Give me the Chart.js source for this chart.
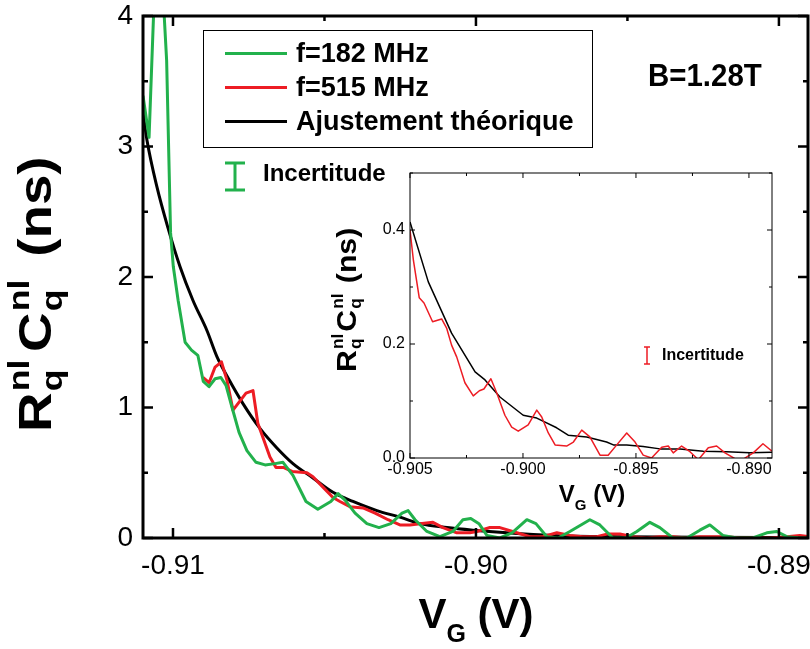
<!DOCTYPE html>
<html>
<head>
<meta charset="utf-8">
<script src="https://cdn.jsdelivr.net/npm/chart.js@4.4.1/dist/chart.umd.min.js"></script>
<style>
  html, body { margin: 0; padding: 0; background: #fff; overflow: hidden; }
  #wrap { position: relative; width: 810px; height: 649px; overflow: hidden;
          font-family: "Liberation Sans", Arial, sans-serif; color: #000; }
  canvas { position: absolute; }
  #main { left: 0; top: 0; }
  #inset { left: 330px; top: 165px; }
  .txt { position: absolute; white-space: nowrap; font-weight: bold; line-height: 1; }
  .ss { display: inline-block; position: relative; height: 0; }
  .ss span { position: absolute; left: 1px; line-height: 1; }
  #legendBox { position: absolute; left: 203px; top: 30px; width: 388px; height: 116px;
               border: 1.5px solid #000; }
  .swatch { position: absolute; left: 225px; width: 62px; height: 3px; }
  svg { position: absolute; overflow: visible; }
</style>
</head>
<body>
<div id="wrap">
  <canvas id="main" width="830" height="649" style="width:830px;height:649px"></canvas>
  <canvas id="inset" width="450" height="320" style="width:450px;height:320px"></canvas>

  <div id="legendBox"></div>
  <div id="legendRows"></div>

  <svg width="30" height="40" style="left:220px;top:156px">
    <path d="M5 7 H25 M15 7 V34 M5 34 H25" stroke="#22b14c" stroke-width="3" fill="none"/>
  </svg>
  <div class="txt" style="left:263px;top:161px;font-size:24px">Incertitude</div>

  <div class="txt" style="left:648px;top:59px;font-size:32px;transform:scaleX(0.92);transform-origin:left top">B=1.28T</div>

  <svg width="20" height="30" style="left:637px;top:343px">
    <path d="M7 4 H13 M10 4 V21 M7 21 H13" stroke="#ed1c24" stroke-width="1.5" fill="none"/>
  </svg>
  <div class="txt" style="left:662px;top:347px;font-size:16px">Incertitude</div>

  <!-- axis titles -->
  <div class="txt" style="left:12px;top:432px;font-size:46px;transform-origin:left top;transform:rotate(-90deg) scaleX(1.19)">R<span class="ss" style="width:34px"><span style="font-size:30px;bottom:17px">nl</span><span style="font-size:30px;top:-14px">q</span></span>C<span class="ss" style="width:34px"><span style="font-size:30px;bottom:17px">nl</span><span style="font-size:30px;top:-14px">q</span></span> (ns)</div>
  <div class="txt" style="left:476px;top:593px;font-size:42px;transform:translateX(-50%)">V<span style="font-size:25px;position:relative;top:14px">G</span> (V)</div>

  <div class="txt" style="left:333px;top:372px;font-size:28px;transform-origin:left top;transform:rotate(-90deg) scaleX(1.08)">R<span class="ss" style="width:17px"><span style="font-size:16px;bottom:10px">nl</span><span style="font-size:16px;top:-8px">q</span></span>C<span class="ss" style="width:17px"><span style="font-size:16px;bottom:10px">nl</span><span style="font-size:16px;top:-8px">q</span></span> (ns)</div>
  <div class="txt" style="left:592px;top:482px;font-size:24px;transform:translateX(-50%)">V<span style="font-size:15px;position:relative;top:8px">G</span> (V)</div>
</div>

<script>
// --- DATA ---
const seriesNames = ['f=182 MHz', 'f=515 MHz', 'Ajustement théorique'];
const seriesColors = ['#22b14c', '#ed1c24', '#000000'];

// main plot, V_G (V) vs RC (ns)
const green182X = [-0.91099, -0.91079, -0.91050, -0.91021, -0.91008, -0.90999, -0.90983, -0.90960, -0.90939, -0.90918,
  -0.90900, -0.90881, -0.90861, -0.90842, -0.90825, -0.90805, -0.90782, -0.90756, -0.90726, -0.90696,
  -0.90663, -0.90637, -0.90604, -0.90561, -0.90522, -0.90479, -0.90455, -0.90432, -0.90399, -0.90360,
  -0.90320, -0.90281, -0.90244, -0.90224, -0.90201, -0.90162, -0.90119, -0.90076, -0.90043, -0.90017,
  -0.89990, -0.89964, -0.89921, -0.89881, -0.89832, -0.89802, -0.89766, -0.89729, -0.89690, -0.89624,
  -0.89591, -0.89548, -0.89505, -0.89469, -0.89426, -0.89393, -0.89350, -0.89304, -0.89261, -0.89228,
  -0.89185, -0.89139, -0.89086, -0.89040, -0.89007, -0.88974, -0.88931, -0.88898];
const green182Y = [3.39, 3.07, 4.9, 3.66, 2.34, 2.08, 1.82, 1.50, 1.44, 1.40,
  1.20, 1.16, 1.22, 1.23, 1.17, 1.00, 0.81, 0.67, 0.58, 0.56,
  0.57, 0.58, 0.48, 0.28, 0.22, 0.28, 0.34, 0.29, 0.19, 0.11,
  0.08, 0.11, 0.19, 0.21, 0.14, 0.05, 0.01, 0.05, 0.14, 0.15,
  0.11, 0.02, 0.00, 0.04, 0.14, 0.11, 0.01, 0.00, 0.05, 0.14,
  0.10, 0.00, 0.00, 0.05, 0.12, 0.08, 0.00, 0.00, 0.06, 0.10,
  0.02, 0.00, 0.00, 0.04, 0.05, 0.01, 0.00, 0.00];

const red515X = [-0.90901, -0.90881, -0.90861, -0.90840, -0.90822, -0.90802, -0.90759, -0.90736, -0.90720, -0.90680,
  -0.90660, -0.90634, -0.90607, -0.90558, -0.90538, -0.90505, -0.90472, -0.90449, -0.90416, -0.90373,
  -0.90333, -0.90290, -0.90251, -0.90218, -0.90185, -0.90142, -0.90109, -0.90063, -0.90020, -0.89997,
  -0.89954, -0.89921, -0.89865, -0.89822, -0.89779, -0.89733, -0.89690, -0.89647, -0.89601, -0.89568,
  -0.89525, -0.89482, -0.89436, -0.89393, -0.89350, -0.89304, -0.89261, -0.89218, -0.89172, -0.89129,
  -0.89086, -0.89030, -0.88974, -0.88931, -0.88898];
const red515Y = [1.23, 1.19, 1.31, 1.35, 1.21, 0.98, 1.11, 1.13, 0.88, 0.62,
  0.54, 0.54, 0.51, 0.50, 0.47, 0.39, 0.31, 0.28, 0.24, 0.23,
  0.19, 0.14, 0.10, 0.10, 0.11, 0.12, 0.08, 0.04, 0.04, 0.05,
  0.08, 0.08, 0.04, 0.01, 0.01, 0.04, 0.02, 0.01, 0.01, 0.03,
  0.03, 0.01, 0.00, 0.01, 0.01, 0.00, 0.01, 0.01, 0.01, 0.00,
  0.00, 0.00, 0.01, 0.02, 0.01];

const fitX = [-0.91099, -0.91086, -0.91053, -0.91017, -0.90977, -0.90934, -0.90888, -0.90855, -0.90819, -0.90769,
  -0.90713, -0.90657, -0.90604, -0.90538, -0.90472, -0.90406, -0.90327, -0.90251, -0.90185, -0.90096,
  -0.90010, -0.89898, -0.89746, -0.89525, -0.89261, -0.88898];
const fitY = [3.26, 3.05, 2.69, 2.38, 2.08, 1.82, 1.59, 1.39, 1.23, 1.03,
  0.84, 0.69, 0.57, 0.46, 0.35, 0.28, 0.21, 0.16, 0.11, 0.08,
  0.06, 0.04, 0.02, 0.01, 0.005, 0.003];

// inset, 515 MHz zoom
const insetRedX = [-0.90500, -0.90485, -0.90459, -0.90438, -0.90400, -0.90360, -0.90338, -0.90316, -0.90293, -0.90257,
  -0.90220, -0.90193, -0.90173, -0.90142, -0.90116, -0.90080, -0.90050, -0.90021, -0.89977, -0.89939,
  -0.89917, -0.89888, -0.89858, -0.89807, -0.89777, -0.89740, -0.89704, -0.89659, -0.89623, -0.89585,
  -0.89541, -0.89504, -0.89468, -0.89431, -0.89386, -0.89357, -0.89335, -0.89298, -0.89261, -0.89224,
  -0.89180, -0.89143, -0.89106, -0.89054, -0.89025, -0.88981, -0.88938, -0.88898];
const insetRedY = [0.400, 0.347, 0.281, 0.272, 0.239, 0.244, 0.228, 0.198, 0.177, 0.132,
  0.109, 0.118, 0.121, 0.139, 0.114, 0.075, 0.054, 0.047, 0.058, 0.084,
  0.072, 0.044, 0.023, 0.021, 0.028, 0.049, 0.037, 0.005, 0.005, 0.023,
  0.044, 0.028, 0.005, 0.000, 0.019, 0.021, 0.009, 0.021, 0.011, -0.003,
  0.018, 0.021, 0.009, -0.003, -0.002, 0.009, 0.025, 0.012];

const insetFitX = [-0.90500, -0.90419, -0.90316, -0.90212, -0.90168, -0.90102, -0.89999, -0.89939, -0.89851, -0.89800,
  -0.89718, -0.89630, -0.89600, -0.89541, -0.89468, -0.89394, -0.89305, -0.89202, -0.89099, -0.88996, -0.88898];
const insetFitY = [0.414, 0.309, 0.219, 0.151, 0.137, 0.107, 0.075, 0.070, 0.053, 0.040,
  0.037, 0.028, 0.023, 0.023, 0.020, 0.016, 0.016, 0.012, 0.011, 0.009, 0.010];

// ticks
const mainXTicks = [-0.91, -0.90, -0.89];
const mainXMinor = [-0.905, -0.895];
const mainYTicks = [0, 1, 2, 3, 4];
const mainYMinor = [0.5, 1.5, 2.5, 3.5];
const insetXTicks = [-0.905, -0.900, -0.895, -0.890];
const insetXMinor = [-0.9025, -0.8975, -0.8925];
const insetYTicks = [0, 0.2, 0.4];
const insetYMinor = [0.1, 0.3, 0.5];

const FONT = '"Liberation Sans", Arial, sans-serif';
const pairs = (xs, ys) => xs.map((x, i) => ({ x, y: ys[i] }));

// --- LEGEND (html, from the series names) ---
const rows = document.getElementById('legendRows');
seriesNames.forEach((name, i) => {
    const cy = 53 + i * 34;
    const sw = document.createElement('div');
    sw.className = 'swatch';
    sw.style.top = (cy - 1.5) + 'px';
    sw.style.background = seriesColors[i];
    rows.appendChild(sw);
    const t = document.createElement('div');
    t.className = 'txt';
    t.style.cssText = `left:296px;top:${cy - 13.2}px;font-size:27px`;
    t.textContent = name;
    rows.appendChild(t);
});

// --- FRAME + INWARD TICKS ---
function frameTicks(o) {
    return {
        id: 'frameTicks',
        afterDatasetsDraw(chart) {
            const { ctx, chartArea: a, scales: { x, y } } = chart;
            ctx.save();
            ctx.strokeStyle = '#000';
            ctx.lineWidth = o.tickWidth;
            const xt = (vals, len) => vals.forEach(v => {
                const px = x.getPixelForValue(v);
                ctx.beginPath();
                ctx.moveTo(px, a.bottom); ctx.lineTo(px, a.bottom - len);
                ctx.moveTo(px, a.top); ctx.lineTo(px, a.top + len);
                ctx.stroke();
            });
            const yt = (vals, len) => vals.forEach(v => {
                const py = y.getPixelForValue(v);
                ctx.beginPath();
                ctx.moveTo(a.left, py); ctx.lineTo(a.left + len, py);
                ctx.moveTo(a.right, py); ctx.lineTo(a.right - len, py);
                ctx.stroke();
            });
            xt(o.xMajor, o.major); xt(o.xMinor, o.minor);
            yt(o.yMajor, o.major); yt(o.yMinor, o.minor);
            ctx.lineWidth = o.frameWidth;
            ctx.strokeRect(a.left, a.top, a.width, a.height);
            ctx.restore();
        }
    };
}

function lineSet(label, xs, ys, color, width, smooth) {
    return {
        label, data: pairs(xs, ys), borderColor: color, borderWidth: width,
        pointRadius: 0, fill: false, tension: 0, borderJoinStyle: 'round',
        cubicInterpolationMode: smooth ? 'monotone' : 'default'
    };
}

// fixed axis box: the label overhang must not move the plot area
function axis(min, max, ticks, size, pad, fmt, fit) {
    return {
        type: 'linear', min, max,
        afterBuildTicks: s => { s.ticks = ticks.map(v => ({ value: v })); },
        afterFit: s => {
            fit(s);
            s.paddingTop = 0; s.paddingBottom = 0; s.paddingLeft = 0; s.paddingRight = 0;
        },
        ticks: { font: { family: FONT, size }, color: '#000', padding: pad,
                 maxRotation: 0, autoSkip: false, callback: fmt },
        grid: { display: false, drawTicks: false },
        border: { display: false }
    };
}

// --- MAIN CHART ---
new Chart(document.getElementById('main'), {
    type: 'line',
    data: { datasets: [
        lineSet(seriesNames[0], green182X, green182Y, seriesColors[0], 3, false),
        lineSet(seriesNames[1], red515X, red515Y, seriesColors[1], 3, false),
        lineSet(seriesNames[2], fitX, fitY, seriesColors[2], 3, true)
    ] },
    options: {
        responsive: false, animation: false,
        layout: { padding: { top: 16, right: 22, left: 0, bottom: 0 } },
        plugins: { legend: { display: false }, tooltip: { enabled: false } },
        scales: {
            x: axis(-0.91099, -0.88904, mainXTicks, 28, 11, v => v.toFixed(2), s => { s.height = 111; }),
            y: axis(0, 4, mainYTicks, 28, 10, v => String(v), s => { s.width = 143; })
        }
    },
    plugins: [frameTicks({ xMajor: mainXTicks, xMinor: mainXMinor, yMajor: mainYTicks, yMinor: mainYMinor,
                           major: 10, minor: 5, tickWidth: 2.5, frameWidth: 3 })]
});

// --- INSET CHART ---
new Chart(document.getElementById('inset'), {
    type: 'line',
    data: { datasets: [
        lineSet(seriesNames[1], insetRedX, insetRedY, seriesColors[1], 1.5, false),
        lineSet(seriesNames[2], insetFitX, insetFitY, seriesColors[2], 1.5, false)
    ] },
    options: {
        responsive: false, animation: false,
        layout: { padding: { top: 8, right: 8, left: 0, bottom: 0 } },
        plugins: { legend: { display: false }, tooltip: { enabled: false } },
        scales: {
            x: axis(-0.905, -0.88898, insetXTicks, 16, 2, v => v.toFixed(3), s => { s.height = 27; }),
            y: axis(0, 0.5, insetYTicks, 16, 5, v => v.toFixed(1), s => { s.width = 80; })
        }
    },
    plugins: [frameTicks({ xMajor: insetXTicks, xMinor: insetXMinor, yMajor: insetYTicks, yMinor: insetYMinor,
                           major: 5, minor: 3, tickWidth: 1, frameWidth: 1 })]
});
</script>
</body>
</html>
